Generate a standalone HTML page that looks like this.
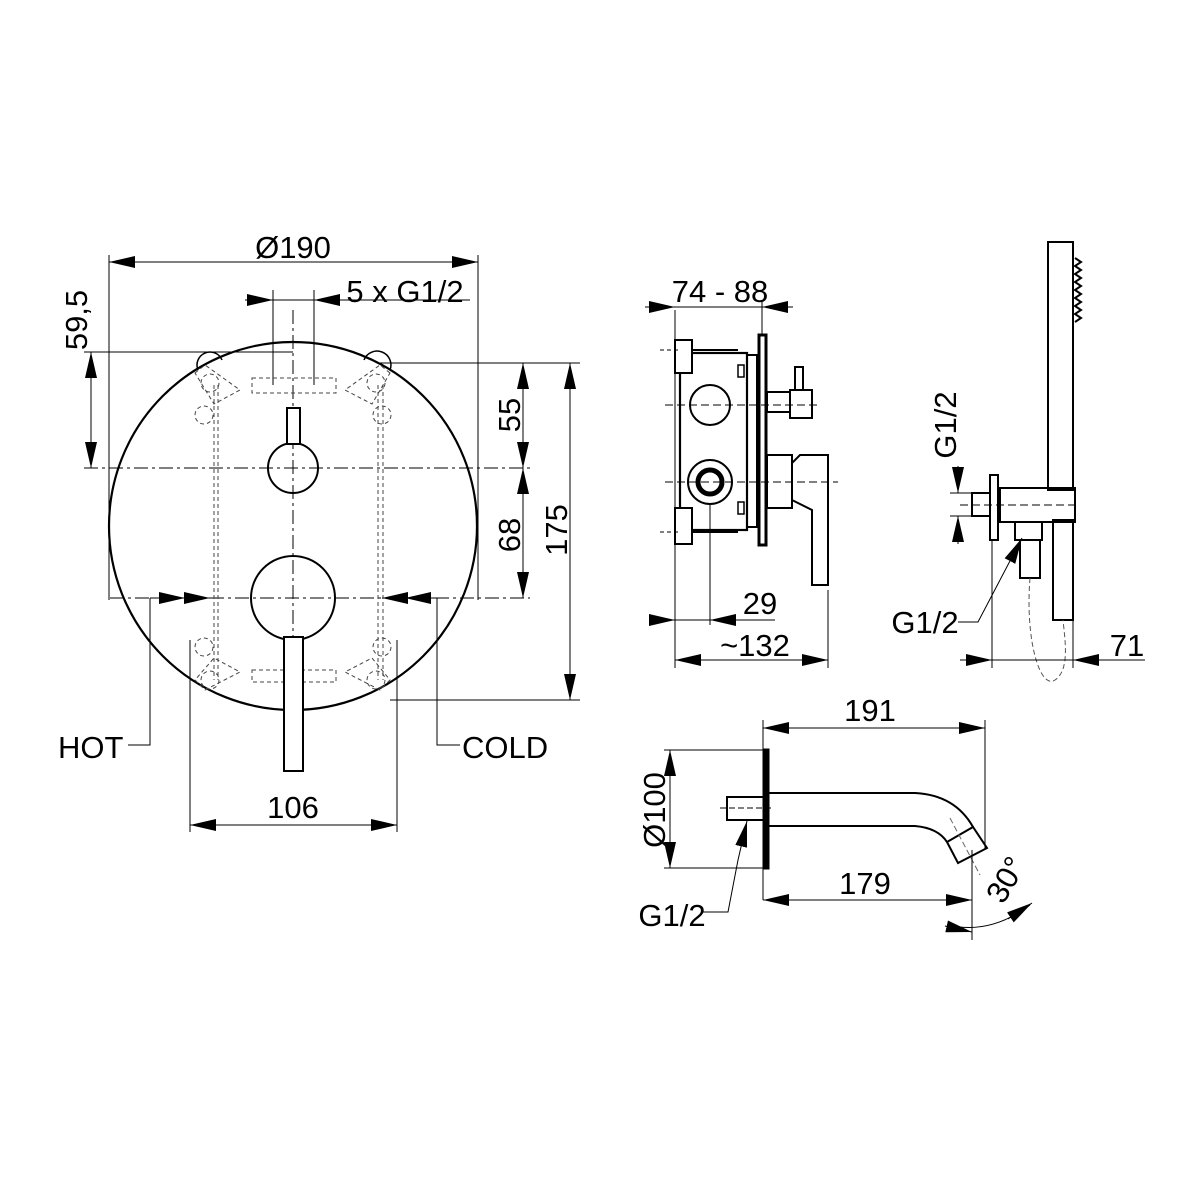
<!DOCTYPE html>
<html><head><meta charset="utf-8"><style>
html,body{margin:0;padding:0;background:#fff;}
svg{display:block;}
text{font-family:"Liberation Sans",Arial,sans-serif;font-size:31px;fill:#000;}
</style></head><body>
<svg width="1200" height="1200" viewBox="0 0 1200 1200" xmlns="http://www.w3.org/2000/svg">
<defs>
<marker id="a" viewBox="0 0 10 10" refX="10" refY="5" markerWidth="26" markerHeight="12" markerUnits="userSpaceOnUse" orient="auto-start-reverse" preserveAspectRatio="none"><path d="M0,0L10,5L0,10z" fill="#000"/></marker>
</defs>
<g fill="none" stroke="#000" stroke-width="1">
<!-- MAIN VIEW -->
<circle cx="293" cy="526" r="184" stroke-width="2.2"/>
<line x1="109" y1="255" x2="109" y2="600"/>
<line x1="478" y1="255" x2="478" y2="600"/>
<line x1="273" y1="290" x2="273" y2="385"/>
<line x1="314" y1="290" x2="314" y2="385"/>
<line x1="84" y1="352" x2="293" y2="352"/>
<line x1="380" y1="363" x2="580" y2="363"/>
<line x1="390" y1="700" x2="580" y2="700"/>
<line x1="190" y1="640" x2="190" y2="832"/>
<line x1="397" y1="640" x2="397" y2="832"/>
<line x1="109" y1="262" x2="478" y2="262" marker-start="url(#a)" marker-end="url(#a)"/>
<line x1="245" y1="300" x2="273" y2="300" marker-end="url(#a)"/>
<line x1="273" y1="300" x2="314" y2="300"/>
<line x1="470" y1="300" x2="314" y2="300" marker-end="url(#a)"/>
<line x1="91" y1="352" x2="91" y2="468" marker-start="url(#a)" marker-end="url(#a)"/>
<line x1="523" y1="363" x2="523" y2="468" marker-start="url(#a)" marker-end="url(#a)"/>
<line x1="523" y1="468" x2="523" y2="598" marker-start="url(#a)" marker-end="url(#a)"/>
<line x1="570" y1="363" x2="570" y2="700" marker-start="url(#a)" marker-end="url(#a)"/>
<line x1="190" y1="825" x2="397" y2="825" marker-start="url(#a)" marker-end="url(#a)"/>
<line x1="84" y1="468" x2="530" y2="468" stroke-dasharray="14,4,3,4"/>
<line x1="110" y1="598" x2="530" y2="598" stroke-dasharray="14,4,3,4"/>
<line x1="293" y1="310" x2="293" y2="700" stroke-dasharray="14,4,3,4"/>
<line x1="150" y1="598" x2="185" y2="598" marker-end="url(#a)"/>
<line x1="185" y1="598" x2="210" y2="598" marker-end="url(#a)"/>
<line x1="437" y1="598" x2="405" y2="598" marker-end="url(#a)"/>
<line x1="405" y1="598" x2="382" y2="598" marker-end="url(#a)"/>
<polyline points="150,598 150,745 128,745"/>
<polyline points="437,598 437,745 460,745"/>
<g stroke-dasharray="4,3" stroke="#444">
<line x1="214" y1="385" x2="214" y2="680"/><line x1="218" y1="385" x2="218" y2="680"/>
<line x1="378" y1="385" x2="378" y2="680"/><line x1="383" y1="385" x2="383" y2="680"/>
<rect x="252" y="378" width="84" height="15"/>
<rect x="252" y="670" width="84" height="12"/>
<path d="M195,373 L205,365 L240,390 L214,404 Z"/>
<path d="M390,373 L380,365 L345,390 L372,404 Z"/>
<path d="M195,680 L205,690 L240,672 L214,658 Z"/>
<path d="M390,680 L380,690 L345,672 L372,658 Z"/>
<circle cx="210" cy="383" r="9"/><circle cx="376" cy="383" r="9"/>
<circle cx="204" cy="415" r="9"/><circle cx="382" cy="415" r="9"/>
<circle cx="204" cy="647" r="9"/><circle cx="382" cy="647" r="9"/>
<circle cx="210" cy="680" r="9"/><circle cx="376" cy="680" r="9"/>
</g>
<path d="M198,370 A12,12 0 0 1 222,360" stroke-width="1.5"/>
<path d="M364,360 A12,12 0 0 1 390,370" stroke-width="1.5"/>
<circle cx="293" cy="468" r="25" stroke-width="2"/>
<rect x="287" y="408" width="13" height="36" stroke-width="2" fill="#fff"/>
<circle cx="293" cy="598" r="42" stroke-width="2"/>
<rect x="284" y="637" width="19" height="134" stroke-width="2" fill="#fff"/>

<!-- SIDE VIEW -->
<line x1="675" y1="310" x2="675" y2="668"/>
<line x1="762" y1="300" x2="762" y2="335"/>
<line x1="645" y1="307" x2="675" y2="307" marker-end="url(#a)"/>
<line x1="675" y1="307" x2="762" y2="307"/>
<line x1="793" y1="307" x2="762" y2="307" marker-end="url(#a)"/>
<rect x="680" y="353" width="67" height="177" stroke-width="2.2"/>
<rect x="747" y="355" width="10" height="172" stroke-width="2"/>
<rect x="759" y="335" width="7" height="210" stroke-width="3"/>
<rect x="675" y="340" width="17" height="33" stroke-width="2" fill="#fff"/>
<rect x="675" y="508" width="17" height="36" stroke-width="2" fill="#fff"/>
<line x1="692" y1="350" x2="738" y2="350" stroke-width="2"/>
<line x1="692" y1="532" x2="738" y2="532" stroke-width="2"/>
<rect x="738" y="365" width="6" height="12" stroke-width="1.5"/>
<rect x="738" y="502" width="6" height="12" stroke-width="1.5"/>
<circle cx="710" cy="405" r="20" stroke-width="2"/>
<circle cx="710" cy="482" r="22" stroke-width="2"/>
<circle cx="710" cy="482" r="12" stroke-width="5"/>
<rect x="767" y="392" width="23" height="20" stroke-width="2"/>
<rect x="790" y="390" width="22" height="28" stroke-width="2"/>
<rect x="795" y="367" width="8" height="23" stroke-width="2"/>
<rect x="767" y="455" width="25" height="53" stroke-width="2"/>
<path d="M800,455 L828,455 L828,585 L812,585 L812,510 L792,500 L792,463 Z" stroke-width="2" fill="#fff"/>
<line x1="665" y1="405" x2="820" y2="405" stroke-dasharray="8,4"/>
<line x1="665" y1="482" x2="838" y2="482" stroke-dasharray="8,4"/>
<line x1="660" y1="350" x2="680" y2="350" stroke-dasharray="4,3"/>
<line x1="660" y1="532" x2="680" y2="532" stroke-dasharray="4,3"/>
<line x1="710" y1="505" x2="710" y2="625"/>
<line x1="828" y1="590" x2="828" y2="668"/>
<line x1="650" y1="620" x2="675" y2="620" marker-end="url(#a)"/>
<line x1="675" y1="620" x2="710" y2="620"/>
<line x1="775" y1="620" x2="710" y2="620" marker-end="url(#a)"/>
<line x1="675" y1="660" x2="828" y2="660" marker-start="url(#a)" marker-end="url(#a)"/>

<!-- HAND SHOWER -->
<rect x="1048" y="242" width="25" height="248" stroke-width="2"/>
<path d="M1075,258 L1081,262 L1075,266 L1081,270 L1075,274 L1081,278 L1075,282 L1081,286 L1075,290 L1081,294 L1075,298 L1081,302 L1075,306 L1081,310 L1075,314 L1081,318 L1075,322" stroke-width="2"/>
<rect x="1000" y="488" width="75" height="34" stroke-width="2"/>
<rect x="990" y="475" width="8" height="65" stroke-width="2"/>
<rect x="972" y="493" width="18" height="23" stroke-width="2"/>
<path d="M1015,522 L1042,522 L1042,540 L1015,540 Z" stroke-width="2"/>
<rect x="1020" y="540" width="20" height="38" stroke-width="2"/>
<rect x="1053" y="520" width="20" height="100" stroke-width="2"/>
<line x1="960" y1="505" x2="1078" y2="505" stroke-dasharray="8,4"/>
<line x1="950" y1="493" x2="972" y2="493"/>
<line x1="950" y1="516" x2="972" y2="516"/>
<line x1="958" y1="466" x2="958" y2="493" marker-end="url(#a)"/>
<line x1="958" y1="544" x2="958" y2="516" marker-end="url(#a)"/>
<polyline points="958,622 978,622 1000,580"/>
<line x1="1000" y1="580" x2="1022" y2="538" marker-end="url(#a)"/>
<path d="M1030,578 C1025,640 1040,690 1055,680 C1070,670 1065,640 1063,620" stroke-dasharray="5,3" stroke="#555"/>
<line x1="992" y1="540" x2="992" y2="668"/>
<line x1="1073" y1="620" x2="1073" y2="668"/>
<line x1="960" y1="660" x2="992" y2="660" marker-end="url(#a)"/>
<line x1="992" y1="660" x2="1073" y2="660"/>
<line x1="1145" y1="660" x2="1073" y2="660" marker-end="url(#a)"/>

<!-- SPOUT -->
<line x1="763" y1="720" x2="763" y2="900"/>
<line x1="985" y1="720" x2="985" y2="850"/>
<line x1="763" y1="728" x2="985" y2="728" marker-start="url(#a)" marker-end="url(#a)"/>
<rect x="764" y="750" width="4" height="118" stroke-width="3" fill="#000"/>
<line x1="664" y1="750" x2="763" y2="750"/>
<line x1="664" y1="868" x2="763" y2="868"/>
<line x1="670" y1="750" x2="670" y2="868" marker-start="url(#a)" marker-end="url(#a)"/>
<rect x="727" y="797" width="37" height="23" stroke-width="2"/>
<line x1="720" y1="808" x2="772" y2="808" stroke-dasharray="6,3"/>
<path d="M768,793 L915,793 Q955,795 973,827" stroke-width="2"/>
<path d="M768,826 L915,826 Q938,828 947,842" stroke-width="2"/>
<path d="M947,842 L973,827 L987,848 L958,863 Z" stroke-width="2"/>
<line x1="950" y1="818" x2="980" y2="875" stroke-dasharray="6,3" stroke="#666"/>
<line x1="972" y1="850" x2="972" y2="940"/>
<line x1="763" y1="900" x2="972" y2="900" marker-start="url(#a)" marker-end="url(#a)"/>
<path d="M948,925 Q990,935 1030,905"/>
<line x1="945" y1="926" x2="972" y2="932" marker-end="url(#a)"/>
<line x1="1008" y1="919" x2="1032" y2="903" marker-end="url(#a)"/>
<polyline points="703,912 728,912 738,860"/>
<line x1="738" y1="860" x2="747" y2="821" marker-end="url(#a)"/>
</g>
<text x="293" y="258" text-anchor="middle">Ø190</text>
<text x="405" y="302" text-anchor="middle">5 x G1/2</text>
<text transform="translate(87,320) rotate(-90)" text-anchor="middle">59,5</text>
<text transform="translate(520,415) rotate(-90)" text-anchor="middle">55</text>
<text transform="translate(520,535) rotate(-90)" text-anchor="middle">68</text>
<text transform="translate(567,530) rotate(-90)" text-anchor="middle">175</text>
<text x="58" y="758">HOT</text>
<text x="462" y="758">COLD</text>
<text x="293" y="818" text-anchor="middle">106</text>
<text x="720" y="302" text-anchor="middle">74 - 88</text>
<text x="760" y="614" text-anchor="middle">29</text>
<text x="755" y="656" text-anchor="middle">~132</text>
<text transform="translate(956,425) rotate(-90)" text-anchor="middle">G1/2</text>
<text x="925" y="633" text-anchor="middle">G1/2</text>
<text x="1127" y="656" text-anchor="middle">71</text>
<text x="870" y="721" text-anchor="middle">191</text>
<text transform="translate(665,810) rotate(-90)" text-anchor="middle">Ø100</text>
<text x="865" y="894" text-anchor="middle">179</text>
<text transform="translate(1015,885) rotate(-60)" text-anchor="middle">30°</text>
<text x="672" y="926" text-anchor="middle">G1/2</text>
</svg>
</body></html>
